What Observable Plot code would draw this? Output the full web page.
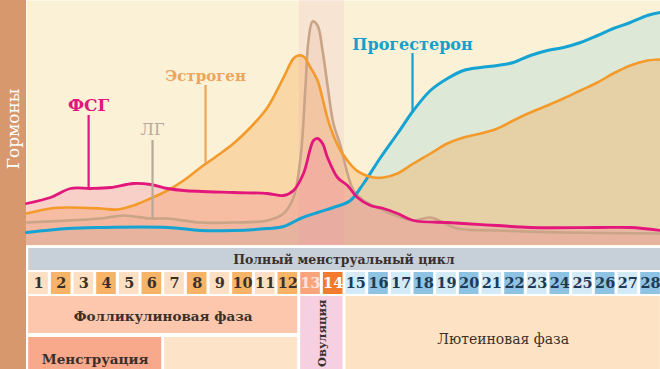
<!DOCTYPE html>
<html><head><meta charset="utf-8">
<script src="https://cdn.jsdelivr.net/npm/d3@7"></script>
<script src="https://cdn.jsdelivr.net/npm/@observablehq/plot@0.6"></script>
<style>
body{margin:0;background:#fff;}
#wrap{position:relative;width:660px;height:369px;overflow:hidden;background:linear-gradient(to right,#d8986e 26px,#ffffff 26px);}
#wrap svg{display:block;background:transparent;}
#gap{height:3px;}
</style></head><body><div id="wrap"></div>
<script>
// ---- hormone curves (x = cycle day, level = relative hormone level) ----
const fshDay = [0.47,1.53,2.41,3.29,4.18,5.19,5.94,6.69,7.40,9.60,11.10,11.81,12.25,12.69,13.13,13.31,13.53,13.75,14.19,14.63,15.07,15.64,16.22,16.84,17.54,19.04,19.75,21.25,22.70,25.66,27.11,28.44];
const fshLevel = [42,48,57,57,58,62,61,57,55,53,52,50,55,72,105,107,102,88,68,60,48,40,37,32,25,23,22,20,18,18,18,15];

const lhDay = [0.47,2.28,3.73,4.75,5.94,6.69,8.15,9.60,11.10,11.81,12.25,12.56,12.78,12.91,13.09,13.31,13.53,13.75,14.01,14.32,14.63,14.90,15.34,15.95,16.53,17.54,18.29,19.48,21.25,24.16,28.44];
const lhLevel = [23,25,27,30,27,27,23,23,25,32,48,88,160,205,224,220,195,160,122,100,72,55,45,38,32,25,28,17,15,13,12];

const estDay = [0.47,1.53,2.28,3.73,4.48,5.19,5.94,6.69,7.40,8.15,8.90,9.60,10.35,11.10,11.81,12.25,12.47,12.69,13.00,13.31,13.53,13.75,14.01,14.32,14.63,14.98,15.34,15.78,16.22,16.84,17.54,18.29,19.04,19.75,20.50,21.25,21.95,22.70,23.45,24.16,24.91,25.66,26.36,27.11,27.86,28.44];
const estLevel = [32,37,38,37,36,40,47,55,65,78,90,102,118,138,168,187,190,189,178,165,147,127,110,95,85,76,71,68,68,72,82,92,102,108,112,117,125,133,140,147,155,163,172,180,185,186];

const progDay = [0.47,2.28,3.73,6.69,8.15,9.60,11.10,11.81,12.56,13.31,14.01,14.76,15.34,16.09,16.84,17.54,18.29,19.04,19.75,20.50,21.25,21.95,22.70,23.45,24.16,24.91,25.66,26.36,27.11,27.86,28.44];
const progLevel = [13,17,18,18,15,15,17,19,27,33,38,45,62,88,112,135,155,167,175,178,180,183,190,195,198,203,210,217,223,230,233];

// ---- curve labels ----
const labelNames = ["ФСГ","ЛГ","Эстроген","Прогестерон"];
const labelDays = [3.21, 6.03, 8.37, 17.50];
const labelTextLevels = [140, 116, 169, 201];
const labelTopLevels = [130, 105, 160, 192];
const labelCurveLevels = [57, 27, 82, 133];

// ---- cycle table ----
const cycleTitle = "Полный менструальный цикл";
const cycleDays = [1,2,3,4,5,6,7,8,9,10,11,12,13,14,15,16,17,18,19,20,21,22,23,24,25,26,27,28];
const phaseNames = ["Фолликулиновая фаза","Овуляция","Лютеиновая фаза","Менструация",""];
const phaseStart = [0.5, 12.5, 14.5, 0.5, 6.5];
const phaseEnd = [12.5, 14.5, 28.5, 6.5, 12.5];
const axisTitle = "Гормоны";

// ---- styling / layout (not data) ----
const xDomain = [0.47, 28.44];
const FONT = "DejaVu Serif";
const colors = {fsh:"#e3167c", lh:"#c9a487", est:"#f39a2b", prog:"#14a3d2"};
const labelColors = ["#e3167c","#b9a898","#eda55c","#169fcc"];
const labelBold = [true, false, true, true];
const labelSizes = [17, 16, 15, 16];
const rows = {cycle:[0,22], days:[24,46], phase:[48,85], sub:[89,125], tall:[48,125]};
const phaseRows = ["phase","tall","tall","sub","sub"];
const phaseFills = ["#fcc7ac","#f6cfe0","#fde2c4","#f8a88b","#fde4c8"];
const phaseBold = [true, true, false, true, false];
const phaseDy = [2, 0, 5, 4, 0];
const TXT = "#3a302b";

const zip = (d, l) => d.map((v, i) => ({day: v, level: l[i]}));
const fsh = zip(fshDay, fshLevel), lh = zip(lhDay, lhLevel), est = zip(estDay, estLevel), prog = zip(progDay, progLevel);
const labels = labelNames.map((n, i) => ({name: n, day: labelDays[i], t: labelTextLevels[i], top: labelTopLevels[i], cur: labelCurveLevels[i], color: labelColors[i], bold: labelBold[i], size: labelSizes[i]}));

const curve = "catmull-rom";
const chart = Plot.plot({
  width: 660, height: 245, marginLeft: 26, marginRight: 0, marginTop: 0, marginBottom: 0,
  x: {domain: xDomain, axis: null},
  y: {domain: [0, 245], axis: null},
  style: {background: "transparent", fontFamily: FONT, overflow: "visible"},
  marks: [
    Plot.frame({fill: "#faf1d7", stroke: null}),
    Plot.areaY(prog, {x: "day", y: "level", curve, fill: "#9ad4d8", fillOpacity: 0.3}),
    Plot.areaY(est, {x: "day", y: "level", curve, fill: "#f5a64c", fillOpacity: 0.35}),
    Plot.areaY(lh, {x: "day", y: "level", curve, fill: "#d9a88a", fillOpacity: 0.18}),
    Plot.areaY(fsh, {x: "day", y: "level", curve, fill: "#f27196", fillOpacity: 0.25}),
    Plot.rect([{s: phaseStart[1], e: phaseEnd[1]}], {x1: "s", x2: "e", y1: 0, y2: 245, fill: "#f28fb6", fillOpacity: 0.12}),
    Plot.line(lh, {x: "day", y: "level", curve, stroke: colors.lh, strokeWidth: 2.6}),
    Plot.line(prog, {x: "day", y: "level", curve, stroke: colors.prog, strokeWidth: 3}),
    Plot.line(est, {x: "day", y: "level", curve, stroke: colors.est, strokeWidth: 2.6}),
    Plot.line(fsh, {x: "day", y: "level", curve, stroke: colors.fsh, strokeWidth: 2.8}),
    Plot.ruleX(labels, {x: "day", y1: "top", y2: "cur", stroke: "color", strokeWidth: 2.2}),
    Plot.text(labels.filter(d => d.bold), {x: "day", y: "t", text: "name", fill: "color", fontWeight: "bold", fontSize: "size"}),
    Plot.text(labels.filter(d => !d.bold), {x: "day", y: "t", text: "name", fill: "color", fontSize: "size"}),
    Plot.text([axisTitle], {frameAnchor: "left", dx: -13, dy: 6, rotate: -90, textAnchor: "middle", fill: "#ffffff", fontSize: 17, text: d => d})
  ]
});

const cells = cycleDays.map(d => ({day: d}));
function cellFill(d) {
  if (d <= 12) return d % 2 ? "#fde0c4" : "#f8b466";
  if (d === 13) return "#f9a57c";
  if (d === 14) return "#f47a2e";
  return d % 2 ? "#d3eaf7" : "#8fc3e4";
}
function cellText(d) {
  if (d === 13) return "#fde3e0";
  if (d === 14) return "#ffffff";
  if (d > 14) return "#1e3b55";
  return TXT;
}
const phases = phaseNames.map((n, i) => ({name: n, s: phaseStart[i], e: phaseEnd[i], y1: rows[phaseRows[i]][0], y2: rows[phaseRows[i]][1], fill: phaseFills[i], bold: phaseBold[i], dy: phaseDy[i]}));
const flat = phases.filter((p, i) => i !== 1);

const table = Plot.plot({
  width: 660, height: 121, marginLeft: 26, marginRight: 0, marginTop: 0, marginBottom: 0,
  x: {domain: xDomain, axis: null},
  y: {domain: [0, 121], range: [0, 121], axis: null},
  style: {background: "transparent", fontFamily: FONT},
  marks: [
    Plot.rect([cycleTitle], {x1: 0.5, x2: xDomain[1], y1: rows.cycle[0], y2: rows.cycle[1], fill: "#c7cfd9", insetLeft: 1.5}),
    Plot.text([cycleTitle], {x: (0.5 + xDomain[1]) / 2, y: (rows.cycle[0] + rows.cycle[1]) / 2, text: d => d, fontSize: 12.5, fontWeight: "bold", fill: TXT}),
    Plot.rect(cells, {x1: d => d.day - 0.5, x2: d => d.day + 0.5, y1: rows.days[0], y2: rows.days[1], fill: d => cellFill(d.day), insetLeft: 1.5, insetRight: 1.5}),
    Plot.text(cells, {x: "day", y: (rows.days[0] + rows.days[1]) / 2, text: d => String(d.day), fill: d => cellText(d.day), fontSize: 14.5, fontWeight: "bold"}),
    Plot.rect(phases, {x1: "s", x2: "e", y1: "y1", y2: "y2", fill: "fill", insetLeft: 1.5, insetRight: 1.5}),
    Plot.text(flat.filter(d => d.bold), {x: d => (d.s + d.e) / 2, y: d => (d.y1 + d.y2) / 2 + d.dy, text: "name", fontSize: 13.5, fontWeight: "bold", fill: TXT}),
    Plot.text(flat.filter(d => !d.bold), {x: d => (d.s + d.e) / 2, y: d => (d.y1 + d.y2) / 2 + d.dy, text: "name", fontSize: 14, fill: TXT}),
    Plot.text(phases.filter((p, i) => i === 1), {x: d => (d.s + d.e) / 2, y: d => d.y1 + 3, text: "name", rotate: -90, textAnchor: "end", fontSize: 11.5, fontWeight: "bold", fill: TXT})
  ]
});

const wrap = document.getElementById("wrap");
wrap.appendChild(chart);
const gap = document.createElement("div"); gap.id = "gap"; wrap.appendChild(gap);
wrap.appendChild(table);
</script></body></html>
